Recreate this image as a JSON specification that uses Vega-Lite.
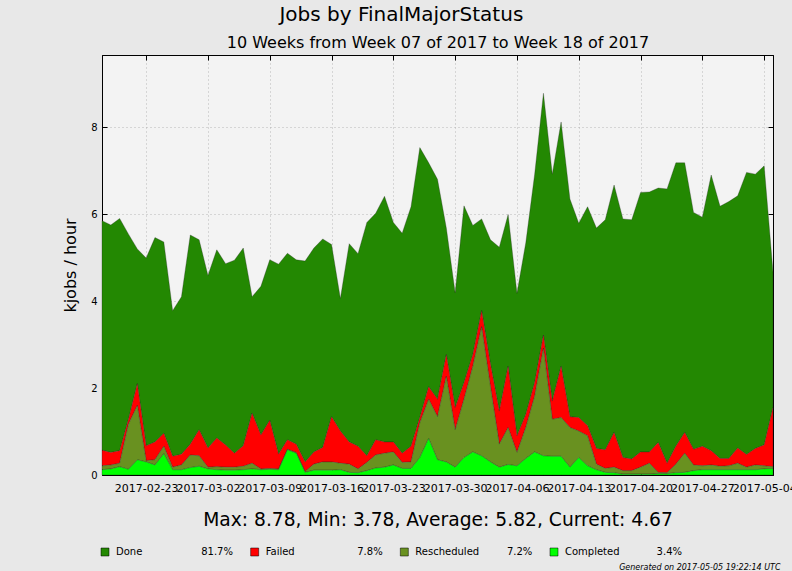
{
  "$schema": "https://vega.github.io/schema/vega-lite/v6.json",
  "background": "#e8e8e8",
  "padding": {"left": 62, "top": 5, "right": 0, "bottom": 0},
  "title": {"text": "Jobs by FinalMajorStatus", "fontSize": 20, "font": "DejaVu Sans", "fontWeight": "normal", "color": "#000000", "anchor": "middle", "dx": -28, "offset": 9},
  "bounds": "flush",
  "spacing": 72,
  "datasets": {
    "jobs": [
{"t":"2017-02-18","s":"Done","v":5.28},{"t":"2017-02-18","s":"Failed","v":0.36},{"t":"2017-02-18","s":"Rescheduled","v":0.09},{"t":"2017-02-18","s":"Completed","v":0.12},
{"t":"2017-02-19","s":"Done","v":5.23},{"t":"2017-02-19","s":"Failed","v":0.29},{"t":"2017-02-19","s":"Rescheduled","v":0.09},{"t":"2017-02-19","s":"Completed","v":0.14},
{"t":"2017-02-20","s":"Done","v":5.34},{"t":"2017-02-20","s":"Failed","v":0.29},{"t":"2017-02-20","s":"Rescheduled","v":0.08},{"t":"2017-02-20","s":"Completed","v":0.19},
{"t":"2017-02-21","s":"Done","v":4.26},{"t":"2017-02-21","s":"Failed","v":0.11},{"t":"2017-02-21","s":"Rescheduled","v":1.04},{"t":"2017-02-21","s":"Completed","v":0.13},
{"t":"2017-02-22","s":"Done","v":3.10},{"t":"2017-02-22","s":"Failed","v":0.50},{"t":"2017-02-22","s":"Rescheduled","v":1.25},{"t":"2017-02-22","s":"Completed","v":0.35},
{"t":"2017-02-23","s":"Done","v":4.32},{"t":"2017-02-23","s":"Failed","v":0.34},{"t":"2017-02-23","s":"Rescheduled","v":0.03},{"t":"2017-02-23","s":"Completed","v":0.30},
{"t":"2017-02-24","s":"Done","v":4.70},{"t":"2017-02-24","s":"Failed","v":0.41},{"t":"2017-02-24","s":"Rescheduled","v":0.12},{"t":"2017-02-24","s":"Completed","v":0.23},
{"t":"2017-02-25","s":"Done","v":4.40},{"t":"2017-02-25","s":"Failed","v":0.30},{"t":"2017-02-25","s":"Rescheduled","v":0.17},{"t":"2017-02-25","s":"Completed","v":0.49},
{"t":"2017-02-26","s":"Done","v":3.35},{"t":"2017-02-26","s":"Failed","v":0.25},{"t":"2017-02-26","s":"Rescheduled","v":0.06},{"t":"2017-02-26","s":"Completed","v":0.12},
{"t":"2017-02-27","s":"Done","v":3.62},{"t":"2017-02-27","s":"Failed","v":0.25},{"t":"2017-02-27","s":"Rescheduled","v":0.11},{"t":"2017-02-27","s":"Completed","v":0.12},
{"t":"2017-02-28","s":"Done","v":4.81},{"t":"2017-02-28","s":"Failed","v":0.25},{"t":"2017-02-28","s":"Rescheduled","v":0.29},{"t":"2017-02-28","s":"Completed","v":0.17},
{"t":"2017-03-01","s":"Done","v":4.37},{"t":"2017-03-01","s":"Failed","v":0.60},{"t":"2017-03-01","s":"Rescheduled","v":0.24},{"t":"2017-03-01","s":"Completed","v":0.20},
{"t":"2017-03-02","s":"Done","v":3.97},{"t":"2017-03-02","s":"Failed","v":0.44},{"t":"2017-03-02","s":"Rescheduled","v":0.04},{"t":"2017-03-02","s":"Completed","v":0.14},
{"t":"2017-03-03","s":"Done","v":4.33},{"t":"2017-03-03","s":"Failed","v":0.66},{"t":"2017-03-03","s":"Rescheduled","v":0.07},{"t":"2017-03-03","s":"Completed","v":0.12},
{"t":"2017-03-04","s":"Done","v":4.17},{"t":"2017-03-04","s":"Failed","v":0.51},{"t":"2017-03-04","s":"Rescheduled","v":0.07},{"t":"2017-03-04","s":"Completed","v":0.11},
{"t":"2017-03-05","s":"Done","v":4.44},{"t":"2017-03-05","s":"Failed","v":0.32},{"t":"2017-03-05","s":"Rescheduled","v":0.07},{"t":"2017-03-05","s":"Completed","v":0.11},
{"t":"2017-03-06","s":"Done","v":4.55},{"t":"2017-03-06","s":"Failed","v":0.47},{"t":"2017-03-06","s":"Rescheduled","v":0.08},{"t":"2017-03-06","s":"Completed","v":0.12},
{"t":"2017-03-07","s":"Done","v":2.68},{"t":"2017-03-07","s":"Failed","v":1.15},{"t":"2017-03-07","s":"Rescheduled","v":0.13},{"t":"2017-03-07","s":"Completed","v":0.14},
{"t":"2017-03-08","s":"Done","v":3.42},{"t":"2017-03-08","s":"Failed","v":0.78},{"t":"2017-03-08","s":"Rescheduled","v":0.02},{"t":"2017-03-08","s":"Completed","v":0.12},
{"t":"2017-03-09","s":"Done","v":3.69},{"t":"2017-03-09","s":"Failed","v":1.11},{"t":"2017-03-09","s":"Rescheduled","v":0.02},{"t":"2017-03-09","s":"Completed","v":0.13},
{"t":"2017-03-10","s":"Done","v":4.37},{"t":"2017-03-10","s":"Failed","v":0.34},{"t":"2017-03-10","s":"Rescheduled","v":0.02},{"t":"2017-03-10","s":"Completed","v":0.12},
{"t":"2017-03-11","s":"Done","v":4.29},{"t":"2017-03-11","s":"Failed","v":0.22},{"t":"2017-03-11","s":"Rescheduled","v":0.01},{"t":"2017-03-11","s":"Completed","v":0.58},
{"t":"2017-03-12","s":"Done","v":4.24},{"t":"2017-03-12","s":"Failed","v":0.19},{"t":"2017-03-12","s":"Rescheduled","v":0.02},{"t":"2017-03-12","s":"Completed","v":0.50},
{"t":"2017-03-13","s":"Done","v":4.62},{"t":"2017-03-13","s":"Failed","v":0.22},{"t":"2017-03-13","s":"Rescheduled","v":0.02},{"t":"2017-03-13","s":"Completed","v":0.06},
{"t":"2017-03-14","s":"Done","v":4.69},{"t":"2017-03-14","s":"Failed","v":0.28},{"t":"2017-03-14","s":"Rescheduled","v":0.14},{"t":"2017-03-14","s":"Completed","v":0.11},
{"t":"2017-03-15","s":"Done","v":4.80},{"t":"2017-03-15","s":"Failed","v":0.33},{"t":"2017-03-15","s":"Rescheduled","v":0.19},{"t":"2017-03-15","s":"Completed","v":0.11},
{"t":"2017-03-16","s":"Done","v":3.96},{"t":"2017-03-16","s":"Failed","v":1.04},{"t":"2017-03-16","s":"Rescheduled","v":0.19},{"t":"2017-03-16","s":"Completed","v":0.11},
{"t":"2017-03-17","s":"Done","v":3.05},{"t":"2017-03-17","s":"Failed","v":0.74},{"t":"2017-03-17","s":"Rescheduled","v":0.15},{"t":"2017-03-17","s":"Completed","v":0.12},
{"t":"2017-03-18","s":"Done","v":4.56},{"t":"2017-03-18","s":"Failed","v":0.51},{"t":"2017-03-18","s":"Rescheduled","v":0.19},{"t":"2017-03-18","s":"Completed","v":0.06},
{"t":"2017-03-19","s":"Done","v":4.43},{"t":"2017-03-19","s":"Failed","v":0.52},{"t":"2017-03-19","s":"Rescheduled","v":0.09},{"t":"2017-03-19","s":"Completed","v":0.05},
{"t":"2017-03-20","s":"Done","v":5.37},{"t":"2017-03-20","s":"Failed","v":0.15},{"t":"2017-03-20","s":"Rescheduled","v":0.19},{"t":"2017-03-20","s":"Completed","v":0.10},
{"t":"2017-03-21","s":"Done","v":5.21},{"t":"2017-03-21","s":"Failed","v":0.35},{"t":"2017-03-21","s":"Rescheduled","v":0.30},{"t":"2017-03-21","s":"Completed","v":0.16},
{"t":"2017-03-22","s":"Done","v":5.65},{"t":"2017-03-22","s":"Failed","v":0.26},{"t":"2017-03-22","s":"Rescheduled","v":0.32},{"t":"2017-03-22","s":"Completed","v":0.18},
{"t":"2017-03-23","s":"Done","v":5.05},{"t":"2017-03-23","s":"Failed","v":0.23},{"t":"2017-03-23","s":"Rescheduled","v":0.30},{"t":"2017-03-23","s":"Completed","v":0.23},
{"t":"2017-03-24","s":"Done","v":5.06},{"t":"2017-03-24","s":"Failed","v":0.21},{"t":"2017-03-24","s":"Rescheduled","v":0.14},{"t":"2017-03-24","s":"Completed","v":0.15},
{"t":"2017-03-25","s":"Done","v":5.51},{"t":"2017-03-25","s":"Failed","v":0.36},{"t":"2017-03-25","s":"Rescheduled","v":0.15},{"t":"2017-03-25","s":"Completed","v":0.15},
{"t":"2017-03-26","s":"Done","v":6.21},{"t":"2017-03-26","s":"Failed","v":0.12},{"t":"2017-03-26","s":"Rescheduled","v":0.80},{"t":"2017-03-26","s":"Completed","v":0.40},
{"t":"2017-03-27","s":"Done","v":5.15},{"t":"2017-03-27","s":"Failed","v":0.29},{"t":"2017-03-27","s":"Rescheduled","v":0.90},{"t":"2017-03-27","s":"Completed","v":0.84},
{"t":"2017-03-28","s":"Done","v":5.06},{"t":"2017-03-28","s":"Failed","v":0.40},{"t":"2017-03-28","s":"Rescheduled","v":0.99},{"t":"2017-03-28","s":"Completed","v":0.35},
{"t":"2017-03-29","s":"Done","v":2.91},{"t":"2017-03-29","s":"Failed","v":0.50},{"t":"2017-03-29","s":"Rescheduled","v":1.97},{"t":"2017-03-29","s":"Completed","v":0.30},
{"t":"2017-03-30","s":"Done","v":2.64},{"t":"2017-03-30","s":"Failed","v":0.51},{"t":"2017-03-30","s":"Rescheduled","v":0.86},{"t":"2017-03-30","s":"Completed","v":0.18},
{"t":"2017-03-31","s":"Done","v":4.07},{"t":"2017-03-31","s":"Failed","v":0.38},{"t":"2017-03-31","s":"Rescheduled","v":1.34},{"t":"2017-03-31","s":"Completed","v":0.40},
{"t":"2017-04-01","s":"Done","v":2.97},{"t":"2017-04-01","s":"Failed","v":0.27},{"t":"2017-04-01","s":"Rescheduled","v":1.97},{"t":"2017-04-01","s":"Completed","v":0.53},
{"t":"2017-04-02","s":"Done","v":2.11},{"t":"2017-04-02","s":"Failed","v":0.37},{"t":"2017-04-02","s":"Rescheduled","v":2.97},{"t":"2017-04-02","s":"Completed","v":0.44},
{"t":"2017-04-03","s":"Done","v":2.86},{"t":"2017-04-03","s":"Failed","v":0.52},{"t":"2017-04-03","s":"Rescheduled","v":1.73},{"t":"2017-04-03","s":"Completed","v":0.30},
{"t":"2017-04-04","s":"Done","v":3.77},{"t":"2017-04-04","s":"Failed","v":0.76},{"t":"2017-04-04","s":"Rescheduled","v":0.53},{"t":"2017-04-04","s":"Completed","v":0.18},
{"t":"2017-04-05","s":"Done","v":3.49},{"t":"2017-04-05","s":"Failed","v":1.41},{"t":"2017-04-05","s":"Rescheduled","v":0.85},{"t":"2017-04-05","s":"Completed","v":0.24},
{"t":"2017-04-06","s":"Done","v":3.28},{"t":"2017-04-06","s":"Failed","v":0.38},{"t":"2017-04-06","s":"Rescheduled","v":0.31},{"t":"2017-04-06","s":"Completed","v":0.21},
{"t":"2017-04-07","s":"Done","v":3.95},{"t":"2017-04-07","s":"Failed","v":0.30},{"t":"2017-04-07","s":"Rescheduled","v":0.71},{"t":"2017-04-07","s":"Completed","v":0.38},
{"t":"2017-04-08","s":"Done","v":4.79},{"t":"2017-04-08","s":"Failed","v":0.31},{"t":"2017-04-08","s":"Rescheduled","v":1.28},{"t":"2017-04-08","s":"Completed","v":0.53},
{"t":"2017-04-09","s":"Done","v":5.56},{"t":"2017-04-09","s":"Failed","v":0.30},{"t":"2017-04-09","s":"Rescheduled","v":2.48},{"t":"2017-04-09","s":"Completed","v":0.44},
{"t":"2017-04-10","s":"Done","v":5.22},{"t":"2017-04-10","s":"Failed","v":0.42},{"t":"2017-04-10","s":"Rescheduled","v":0.85},{"t":"2017-04-10","s":"Completed","v":0.43},
{"t":"2017-04-11","s":"Done","v":5.62},{"t":"2017-04-11","s":"Failed","v":1.18},{"t":"2017-04-11","s":"Rescheduled","v":0.89},{"t":"2017-04-11","s":"Completed","v":0.43},
{"t":"2017-04-12","s":"Done","v":5.01},{"t":"2017-04-12","s":"Failed","v":0.25},{"t":"2017-04-12","s":"Rescheduled","v":0.91},{"t":"2017-04-12","s":"Completed","v":0.18},
{"t":"2017-04-13","s":"Done","v":4.47},{"t":"2017-04-13","s":"Failed","v":0.31},{"t":"2017-04-13","s":"Rescheduled","v":0.61},{"t":"2017-04-13","s":"Completed","v":0.40},
{"t":"2017-04-14","s":"Done","v":5.04},{"t":"2017-04-14","s":"Failed","v":0.23},{"t":"2017-04-14","s":"Rescheduled","v":0.69},{"t":"2017-04-14","s":"Completed","v":0.21},
{"t":"2017-04-15","s":"Done","v":5.07},{"t":"2017-04-15","s":"Failed","v":0.36},{"t":"2017-04-15","s":"Rescheduled","v":0.13},{"t":"2017-04-15","s":"Completed","v":0.12},
{"t":"2017-04-16","s":"Done","v":5.29},{"t":"2017-04-16","s":"Failed","v":0.43},{"t":"2017-04-16","s":"Rescheduled","v":0.09},{"t":"2017-04-16","s":"Completed","v":0.06},
{"t":"2017-04-17","s":"Done","v":5.69},{"t":"2017-04-17","s":"Failed","v":0.80},{"t":"2017-04-17","s":"Rescheduled","v":0.13},{"t":"2017-04-17","s":"Completed","v":0.05},
{"t":"2017-04-18","s":"Done","v":5.49},{"t":"2017-04-18","s":"Failed","v":0.30},{"t":"2017-04-18","s":"Rescheduled","v":0.08},{"t":"2017-04-18","s":"Completed","v":0.02},
{"t":"2017-04-19","s":"Done","v":5.50},{"t":"2017-04-19","s":"Failed","v":0.27},{"t":"2017-04-19","s":"Rescheduled","v":0.08},{"t":"2017-04-19","s":"Completed","v":0.02},
{"t":"2017-04-20","s":"Done","v":5.97},{"t":"2017-04-20","s":"Failed","v":0.35},{"t":"2017-04-20","s":"Rescheduled","v":0.16},{"t":"2017-04-20","s":"Completed","v":0.02},
{"t":"2017-04-21","s":"Done","v":5.98},{"t":"2017-04-21","s":"Failed","v":0.26},{"t":"2017-04-21","s":"Rescheduled","v":0.25},{"t":"2017-04-21","s":"Completed","v":0.02},
{"t":"2017-04-22","s":"Done","v":5.85},{"t":"2017-04-22","s":"Failed","v":0.69},{"t":"2017-04-22","s":"Rescheduled","v":0.03},{"t":"2017-04-22","s":"Completed","v":0.03},
{"t":"2017-04-23","s":"Done","v":6.31},{"t":"2017-04-23","s":"Failed","v":0.22},{"t":"2017-04-23","s":"Rescheduled","v":0.02},{"t":"2017-04-23","s":"Completed","v":0.03},
{"t":"2017-04-24","s":"Done","v":6.52},{"t":"2017-04-24","s":"Failed","v":0.41},{"t":"2017-04-24","s":"Rescheduled","v":0.20},{"t":"2017-04-24","s":"Completed","v":0.05},
{"t":"2017-04-25","s":"Done","v":6.20},{"t":"2017-04-25","s":"Failed","v":0.48},{"t":"2017-04-25","s":"Rescheduled","v":0.44},{"t":"2017-04-25","s":"Completed","v":0.06},
{"t":"2017-04-26","s":"Done","v":5.45},{"t":"2017-04-26","s":"Failed","v":0.36},{"t":"2017-04-26","s":"Rescheduled","v":0.13},{"t":"2017-04-26","s":"Completed","v":0.10},
{"t":"2017-04-27","s":"Done","v":5.27},{"t":"2017-04-27","s":"Failed","v":0.45},{"t":"2017-04-27","s":"Rescheduled","v":0.09},{"t":"2017-04-27","s":"Completed","v":0.12},
{"t":"2017-04-28","s":"Done","v":6.34},{"t":"2017-04-28","s":"Failed","v":0.33},{"t":"2017-04-28","s":"Rescheduled","v":0.11},{"t":"2017-04-28","s":"Completed","v":0.12},
{"t":"2017-04-29","s":"Done","v":5.80},{"t":"2017-04-29","s":"Failed","v":0.18},{"t":"2017-04-29","s":"Rescheduled","v":0.08},{"t":"2017-04-29","s":"Completed","v":0.12},
{"t":"2017-04-30","s":"Done","v":5.91},{"t":"2017-04-30","s":"Failed","v":0.17},{"t":"2017-04-30","s":"Rescheduled","v":0.09},{"t":"2017-04-30","s":"Completed","v":0.12},
{"t":"2017-05-01","s":"Done","v":5.80},{"t":"2017-05-01","s":"Failed","v":0.35},{"t":"2017-05-01","s":"Rescheduled","v":0.15},{"t":"2017-05-01","s":"Completed","v":0.12},
{"t":"2017-05-02","s":"Done","v":6.49},{"t":"2017-05-02","s":"Failed","v":0.29},{"t":"2017-05-02","s":"Rescheduled","v":0.06},{"t":"2017-05-02","s":"Completed","v":0.12},
{"t":"2017-05-03","s":"Done","v":6.31},{"t":"2017-05-03","s":"Failed","v":0.38},{"t":"2017-05-03","s":"Rescheduled","v":0.11},{"t":"2017-05-03","s":"Completed","v":0.12},
{"t":"2017-05-04","s":"Done","v":6.42},{"t":"2017-05-04","s":"Failed","v":0.48},{"t":"2017-05-04","s":"Rescheduled","v":0.07},{"t":"2017-05-04","s":"Completed","v":0.14},
{"t":"2017-05-05","s":"Done","v":3.12},{"t":"2017-05-05","s":"Failed","v":1.36},{"t":"2017-05-05","s":"Rescheduled","v":0.04},{"t":"2017-05-05","s":"Completed","v":0.15}
    ],
    "legend": [
      {"s": "Done", "p": "81.7%"},
      {"s": "Failed", "p": "7.8%"},
      {"s": "Rescheduled", "p": "7.2%"},
      {"s": "Completed", "p": "3.4%"}
    ]
  },
  "vconcat": [
    {
      "width": 671,
      "height": 420,
      "data": {"name": "jobs"},
      "transform": [
        {"calculate": "indexof(['Completed', 'Rescheduled', 'Failed', 'Done'], datum.s)", "as": "stackOrder"}
      ],
      "layer": [
        {
          "mark": {"type": "area", "stroke": "#222222", "strokeWidth": 0.5, "strokeOpacity": 0.6, "opacity": 1},
          "encoding": {
            "x": {
              "field": "t", "type": "temporal",
              "scale": {"type": "utc", "domain": [{"year": 2017, "month": 2, "date": 18, "utc": true}, {"year": 2017, "month": 5, "date": 5, "utc": true}]},
              "axis": {
                "orient": "bottom",
                "values": [
                  {"year": 2017, "month": 2, "date": 23, "utc": true},
                  {"year": 2017, "month": 3, "date": 2, "utc": true},
                  {"year": 2017, "month": 3, "date": 9, "utc": true},
                  {"year": 2017, "month": 3, "date": 16, "utc": true},
                  {"year": 2017, "month": 3, "date": 23, "utc": true},
                  {"year": 2017, "month": 3, "date": 30, "utc": true},
                  {"year": 2017, "month": 4, "date": 6, "utc": true},
                  {"year": 2017, "month": 4, "date": 13, "utc": true},
                  {"year": 2017, "month": 4, "date": 20, "utc": true},
                  {"year": 2017, "month": 4, "date": 27, "utc": true},
                  {"year": 2017, "month": 5, "date": 4, "utc": true}
                ],
                "format": "%Y-%m-%d",
                "labelFontSize": 11,
                "labelFlush": false,
                "labelOverlap": false,
                "tickSize": -5,
                "labelPadding": 12,
                "grid": true,
                "title": "Max: 8.78, Min: 3.78, Average: 5.82, Current: 4.67",
                "titleFontSize": 18.7,
                "titlePadding": 17
              }
            },
            "y": {
              "field": "v", "type": "quantitative", "stack": "zero",
              "scale": {"domain": [0, 9.66], "nice": false},
              "axis": {
                "orient": "left",
                "values": [0, 2, 4, 6, 8],
                "tickSize": -5,
                "labelFontSize": 10,
                "labelPadding": 10,
                "grid": true,
                "title": "kjobs / hour",
                "titleFontSize": 16,
                "titlePadding": 12
              }
            },
            "color": {
              "field": "s", "type": "nominal",
              "scale": {"domain": ["Done", "Failed", "Rescheduled", "Completed"], "range": ["#238802", "#ff0000", "#699120", "#00ff00"]},
              "legend": null
            },
            "order": {"field": "stackOrder", "type": "quantitative", "sort": "ascending"}
          }
        },
        {
          "mark": {"type": "point", "opacity": 0},
          "encoding": {
            "x": {
              "field": "t", "type": "temporal",
              "axis": {
                "orient": "top",
                "values": [
                  {"year": 2017, "month": 2, "date": 23, "utc": true},
                  {"year": 2017, "month": 3, "date": 2, "utc": true},
                  {"year": 2017, "month": 3, "date": 9, "utc": true},
                  {"year": 2017, "month": 3, "date": 16, "utc": true},
                  {"year": 2017, "month": 3, "date": 23, "utc": true},
                  {"year": 2017, "month": 3, "date": 30, "utc": true},
                  {"year": 2017, "month": 4, "date": 6, "utc": true},
                  {"year": 2017, "month": 4, "date": 13, "utc": true},
                  {"year": 2017, "month": 4, "date": 20, "utc": true},
                  {"year": 2017, "month": 4, "date": 27, "utc": true},
                  {"year": 2017, "month": 5, "date": 4, "utc": true}
                ],
                "labels": false,
                "tickSize": -5,
                "grid": false,
                "title": "10 Weeks from Week 07 of 2017 to Week 18 of 2017",
                "titleFontSize": 16,
                "titlePadding": 4
              }
            },
            "y": {
              "field": "v", "type": "quantitative",
              "axis": {"orient": "right", "values": [0, 2, 4, 6, 8], "labels": false, "tickSize": -5, "grid": false, "title": null}
            }
          }
        }
      ],
      "resolve": {"axis": {"x": "independent", "y": "independent"}}
    },
    {
      "width": 671,
      "height": 10,
      "data": {"name": "legend"},
      "view": {"stroke": null, "fill": null},
      "encoding": {
        "x": {
          "field": "s", "type": "nominal",
          "sort": ["Done", "Failed", "Rescheduled", "Completed"],
          "scale": {"type": "point", "domain": ["Done", "Failed", "Rescheduled", "Completed"], "range": [3, 452], "padding": 0},
          "axis": {"orient": "bottom", "labels": false, "ticks": false, "domain": false, "grid": false, "title": "Generated on 2017-05-05 19:22:14 UTC", "titleFontSize": 8, "titleFontStyle": "italic", "titleAnchor": "end", "titleAlign": "right", "titleX": 678, "titlePadding": 6}
        }
      },
      "layer": [
        {
          "mark": {"type": "square", "size": 64, "stroke": "#000000", "strokeWidth": 0.5, "opacity": 1},
          "encoding": {
            "color": {"field": "s", "type": "nominal", "scale": {"domain": ["Done", "Failed", "Rescheduled", "Completed"], "range": ["#238802", "#ff0000", "#699120", "#00ff00"]}, "legend": null}
          }
        },
        {
          "mark": {"type": "text", "align": "left", "dx": 11, "fontSize": 10, "color": "#000000"},
          "encoding": {"text": {"field": "s"}}
        },
        {
          "mark": {"type": "text", "align": "right", "dx": 128, "fontSize": 10, "color": "#000000"},
          "encoding": {"text": {"field": "p"}}
        }
      ]
    }
  ],
  "config": {
    "font": "DejaVu Sans",
    "view": {"stroke": "#000000", "strokeWidth": 1, "fill": "#f3f3f3"},
    "axis": {
      "domainColor": "#000000",
      "tickColor": "#000000",
      "labelColor": "#000000",
      "titleColor": "#000000",
      "titleFontWeight": "normal",
      "labelFont": "DejaVu Sans",
      "titleFont": "DejaVu Sans",
      "gridColor": "#a8a8a8",
      "gridDash": [1, 3],
      "gridOpacity": 0.8
    },
    "text": {"font": "DejaVu Sans"}
  }
}
